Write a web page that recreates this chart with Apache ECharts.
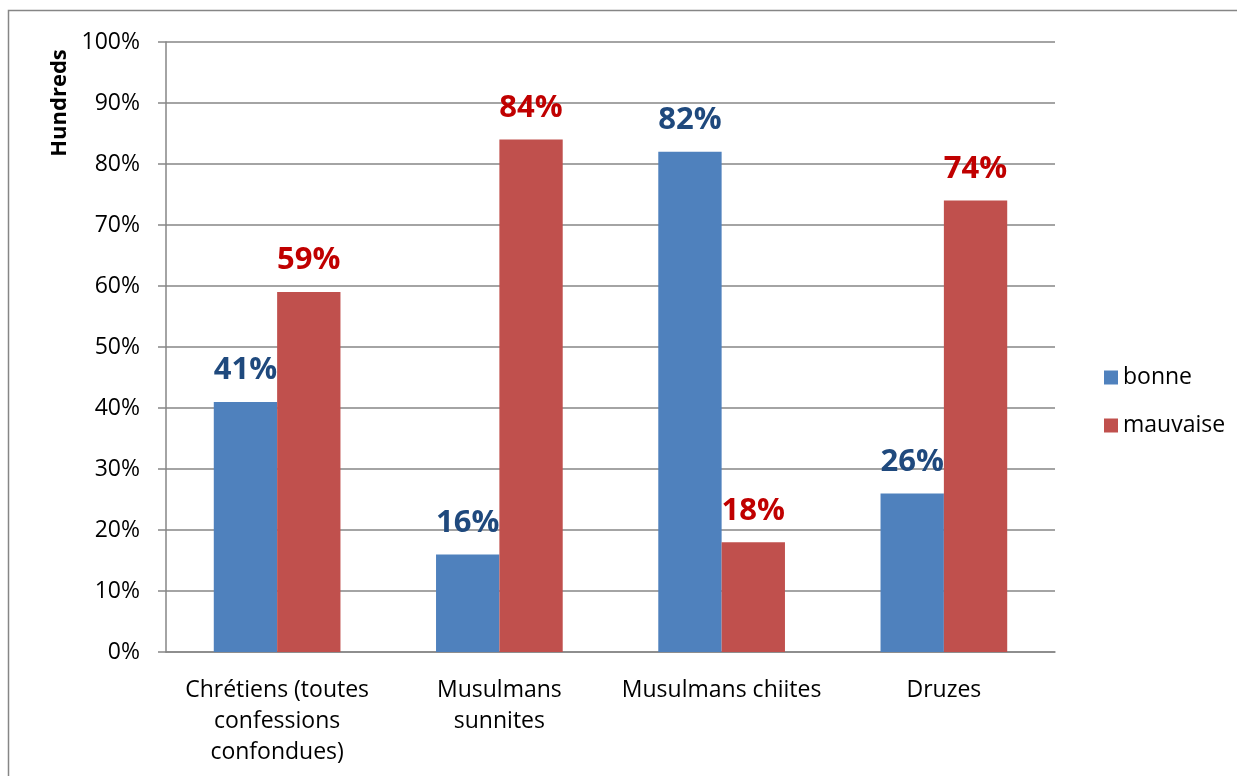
<!DOCTYPE html>
<html>
<head>
<meta charset="utf-8">
<script src="https://cdn.jsdelivr.net/npm/echarts@6/dist/echarts.min.js"></script>
<style>
  html, body { margin: 0; padding: 0; background: #fff; }
  #chart { width: 1237px; height: 776px; }
</style>
</head>
<body>
<div id="chart"></div>
<script>
// chart data
const categories = ['Chrétiens (toutes\nconfessions\nconfondues)', 'Musulmans\nsunnites', 'Musulmans chiites', 'Druzes']
const bonne = [41, 16, 82, 26]
const mauvaise = [59, 84, 18, 74]
const yTicks = [0, 10, 20, 30, 40, 50, 60, 70, 80, 90, 100]

const font = '"Open Sans", sans-serif'

const myChart = echarts.init(document.getElementById('chart'))
myChart.setOption({
  animation: false,
  textStyle: { fontFamily: font },
  graphic: [
    {
      // outer chart border
      type: 'rect',
      shape: { x: 8.5, y: 10.5, width: 1300, height: 900 },
      style: { fill: 'none', stroke: '#868686', lineWidth: 1.5 },
      silent: true,
    },
    {
      type: 'text',
      x: 60,
      y: 103,
      rotation: Math.PI / 2,
      style: {
        text: 'Hundreds',
        font: 'bold 22px ' + font,
        fill: '#000',
        align: 'center',
        verticalAlign: 'middle',
      },
    },
  ],
  legend: {
    orient: 'vertical',
    left: 1099,
    top: 361,
    itemWidth: 14,
    itemHeight: 14,
    itemGap: 25,
    itemTextGap: 6,
    icon: 'rect',
    textStyle: { fontSize: 23, color: '#000', fontFamily: font },
    data: ['bonne', 'mauvaise'],
  },
  grid: {
    left: 166,
    top: 42,
    right: 182,
    bottom: 124,
  },
  xAxis: {
    type: 'category',
    data: categories,
    axisLine: { lineStyle: { color: '#868686', width: 1.5 } },
    axisTick: { length: 8, lineStyle: { color: '#868686', width: 1.5 } },
    axisLabel: {
      fontSize: 23,
      color: '#000',
      lineHeight: 31,
      margin: 23,
      interval: 0,
      fontFamily: font,
    },
  },
  yAxis: {
    type: 'value',
    min: 0,
    max: 100,
    interval: 10,
    axisLine: { show: true, lineStyle: { color: '#868686', width: 1.5 } },
    axisTick: { show: true, length: 8, lineStyle: { color: '#868686', width: 1.5 } },
    splitLine: { lineStyle: { color: '#868686', width: 1.5 } },
    axisLabel: {
      fontSize: 23,
      color: '#000',
      margin: 26,
      fontFamily: font,
      formatter: (v) => (yTicks.includes(v) ? v + '%' : ''),
    },
  },
  series: [
    {
      name: 'bonne',
      type: 'bar',
      data: bonne,
      barGap: 0,
      barCategoryGap: '43%',
      itemStyle: { color: '#4F81BD' },
      label: {
        show: true,
        position: 'top',
        distance: 16,
        formatter: '{c}%',
        fontSize: 31,
        fontWeight: 'bold',
        color: '#1F497D',
        fontFamily: font,
      },
    },
    {
      name: 'mauvaise',
      type: 'bar',
      data: mauvaise,
      barGap: 0,
      barCategoryGap: '43%',
      itemStyle: { color: '#C0504D' },
      label: {
        show: true,
        position: 'top',
        distance: 16,
        formatter: '{c}%',
        fontSize: 31,
        fontWeight: 'bold',
        color: '#C00000',
        fontFamily: font,
      },
    },
  ],
})
</script>
</body>
</html>
